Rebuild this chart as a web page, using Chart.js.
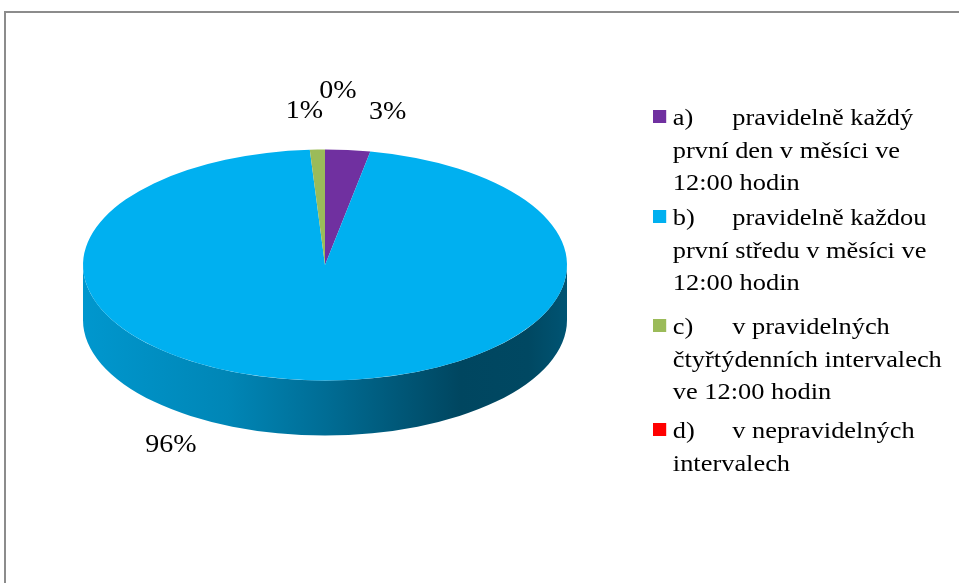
<!DOCTYPE html>
<html>
<head>
<meta charset="utf-8">
<script src="https://cdn.jsdelivr.net/npm/chart.js@4"></script>
<style>
  body { margin: 0; background: #fff; }
  #wrap { position: relative; width: 959px; height: 583px; overflow: hidden; }
  #frame { position: absolute; left: 4px; top: 11px; right: -10px; bottom: -10px;
           border-top: 2px solid #8c8c8c; border-left: 2px solid #8c8c8c; }
  #legend { position: absolute; left: 653px; top: 101px; transform: scaleX(1.1); transform-origin: 0 0;
            font-family: "Liberation Serif", serif; font-size: 24px; line-height: 32.5px; color: #000; }
  .item { position: relative; padding-left: 18px; white-space: nowrap; }
  .item:nth-child(1) { margin-bottom: 2.5px; }
  .item:nth-child(2) { margin-bottom: 11.5px; }
  .item:nth-child(3) { margin-bottom: 6.5px; }
  .box { position: absolute; left: 0; top: 9px; width: 12px; height: 13px; }
  .key { display: inline-block; width: 54px; }
</style>
</head>
<body>
<div id="wrap">
  <canvas id="pieChart" width="959" height="583"></canvas>
  <div id="frame"></div>
  <div id="legend"></div>
</div>
<script>
const keys = ["a)", "b)", "c)", "d)"];
const labels = [
    ["pravidelně každý", "první den v měsíci ve", "12:00 hodin"],
    ["pravidelně každou", "první středu v měsíci ve", "12:00 hodin"],
    ["v pravidelných", "čtyřtýdenních intervalech", "ve 12:00 hodin"],
    ["v nepravidelných", "intervalech"],
];
const values = [3, 96, 1, 0];
const colors = ["#7030A0", "#00B0F0", "#9BBB59", "#FF0000"];

function shade(hex, f) {
    const n = parseInt(hex.slice(1), 16);
    const r = Math.round(((n >> 16) & 255) * f);
    const g = Math.round(((n >> 8) & 255) * f);
    const b = Math.round((n & 255) * f);
    return `rgb(${r},${g},${b})`;
}

// fake 3d: squash the pie and paint the rim underneath
const pie3d = {
    id: "pie3d",
    beforeDatasetsDraw(chart, args, opts) {
        const ctx = chart.ctx;
        const meta = chart.getDatasetMeta(0);
        const cx = meta.data[0].x, cy = meta.data[0].y, r = meta.data[0].outerRadius;
        const ry = r * opts.tilt, top = opts.centerY;
        meta.data.forEach((arc, i) => {
            const a0 = Math.max(arc.startAngle, 0);
            const a1 = Math.min(arc.endAngle, Math.PI);
            if (a1 <= a0) return;
            const col = chart.data.datasets[0].backgroundColor[i];
            const grad = ctx.createLinearGradient(cx - r, 0, cx + r, 0);
            grad.addColorStop(0, shade(col, 0.86));
            grad.addColorStop(0.3, shade(col, 0.76));
            grad.addColorStop(0.5, shade(col, 0.62));
            grad.addColorStop(0.78, shade(col, 0.40));
            grad.addColorStop(0.92, shade(col, 0.41));
            grad.addColorStop(1, shade(col, 0.48));
            ctx.save();
            ctx.fillStyle = grad;
            ctx.beginPath();
            ctx.ellipse(cx, top, r, ry, 0, a0, a1);
            ctx.ellipse(cx, top + opts.depth, r, ry, 0, a1, a0, true);
            ctx.closePath();
            ctx.fill();
            ctx.restore();
        });
        ctx.save();
        ctx.translate(cx, top);
        ctx.scale(1, opts.tilt);
        ctx.translate(-cx, -cy);
    },
    afterDatasetsDraw(chart, args, opts) {
        const ctx = chart.ctx;
        ctx.restore();
        const meta = chart.getDatasetMeta(0);
        const cx = meta.data[0].x, r = meta.data[0].outerRadius;
        const ry = r * opts.tilt, top = opts.centerY;
        const vals = chart.data.datasets[0].data;
        const total = vals.reduce((s, v) => s + v, 0);
        ctx.save();
        ctx.font = "25px 'Liberation Serif'";
        ctx.fillStyle = "#000";
        ctx.textAlign = "center";
        ctx.textBaseline = "middle";
        meta.data.forEach((arc, i) => {
            const m = (arc.startAngle + arc.endAngle) / 2;
            const x = cx + r * Math.cos(m) + opts.shift[i][0];
            const y = top + ry * Math.sin(m) + opts.shift[i][1];
            ctx.save();
            ctx.translate(x, y);
            ctx.scale(1.12, 1);
            ctx.fillText(Math.round(vals[i] / total * 100) + "%", 0, 0);
            ctx.restore();
        });
        ctx.restore();
    }
};

new Chart(document.getElementById("pieChart"), {
    type: "pie",
    data: {
        labels: keys,
        datasets: [{
            data: values,
            backgroundColor: colors,
            borderWidth: 0,
            clip: false,
        }],
    },
    options: {
        responsive: false,
        devicePixelRatio: 1,
        animation: false,
        events: [],
        layout: { padding: { left: 83, right: 392, top: 50, bottom: 49 } },
        plugins: {
            legend: { display: false },
            tooltip: { enabled: false },
            pie3d: {
                tilt: 0.477,
                centerY: 265,
                depth: 55,
                shift: [[40, -38], [-139, 65], [-13, -38], [13, -58]],
            },
        },
    },
    plugins: [pie3d],
});

// legend as html, lines broken as in the original
const legend = document.getElementById("legend");
keys.forEach((k, i) => {
    const item = document.createElement("div");
    item.className = "item";
    const box = document.createElement("span");
    box.className = "box";
    box.style.background = colors[i];
    item.appendChild(box);
    const key = document.createElement("span");
    key.className = "key";
    key.textContent = k;
    item.appendChild(key);
    labels[i].forEach((line, j) => {
        if (j > 0) item.appendChild(document.createElement("br"));
        item.appendChild(document.createTextNode(line));
    });
    legend.appendChild(item);
});
</script>
</body>
</html>
